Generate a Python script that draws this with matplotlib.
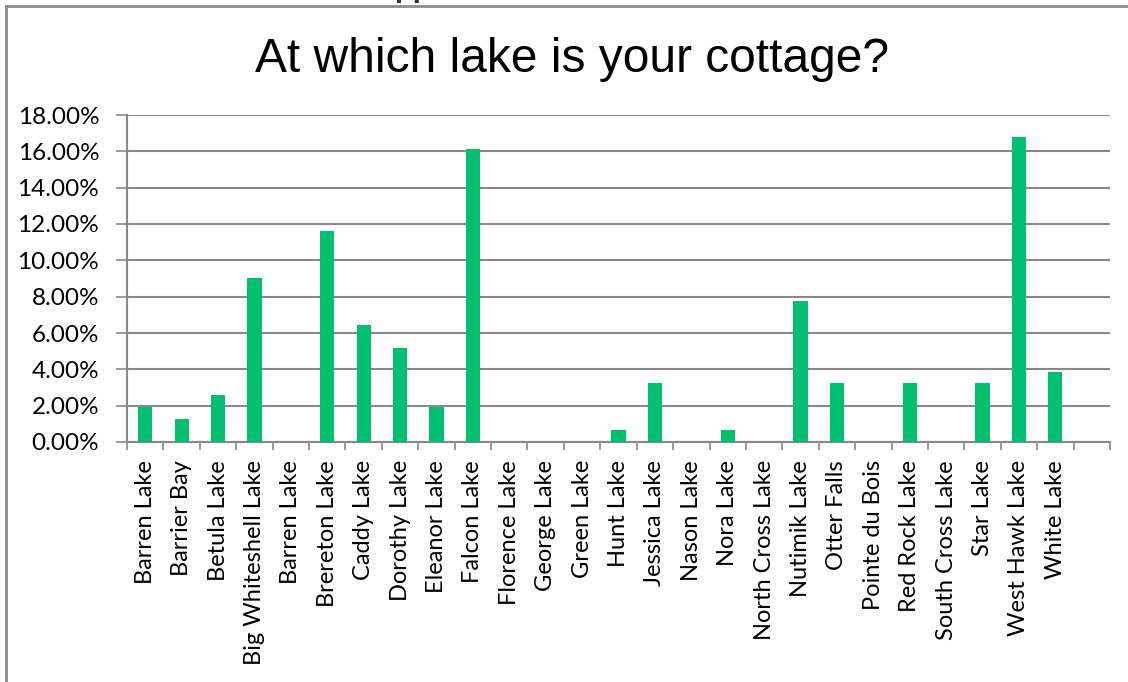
import matplotlib
matplotlib.use("Agg")
import matplotlib.pyplot as plt
import numpy as np
from matplotlib.ticker import FuncFormatter, MultipleLocator
from matplotlib.lines import Line2D

# categories (last slot is an empty category in the original chart)
LAKES = ["Barren Lake", "Barrier Bay", "Betula Lake", "Big Whiteshell Lake",
         "Barren Lake", "Brereton Lake", "Caddy Lake", "Dorothy Lake",
         "Eleanor Lake", "Falcon Lake", "Florence Lake", "George Lake",
         "Green Lake", "Hunt Lake", "Jessica Lake", "Nason Lake", "Nora Lake",
         "North Cross Lake", "Nutimik Lake", "Otter Falls", "Pointe du Bois",
         "Red Rock Lake", "South Cross Lake", "Star Lake", "West Hawk Lake",
         "White Lake", ""]
# share of respondents (%)
SHARE = [1.94, 1.29, 2.58, 9.03, 0.0, 11.61, 6.45, 5.16, 1.94, 16.13,
         0.0, 0.0, 0.0, 0.65, 3.23, 0.0, 0.65, 0.0, 7.74, 3.23, 0.0,
         3.23, 0.0, 3.23, 16.77, 3.87, 0.0]

GREEN = "#00BF6F"
GRID = "#898989"
LABEL_FONT = ["Lato", "DejaVu Sans"]

fig = plt.figure(figsize=(11.28, 6.82), dpi=100)
W, H = 1128, 682
ax = fig.add_axes([127 / W, 1 - 442 / H, (1110 - 127) / W, (442 - 115) / H])

x = np.arange(len(LAKES))
ax.bar(x, SHARE, width=0.39, color=GREEN, zorder=3)

ax.set_xlim(-0.5, len(LAKES) - 0.5)
ax.set_ylim(0, 18)
ax.yaxis.set_major_locator(MultipleLocator(2))
ax.yaxis.set_major_formatter(FuncFormatter(lambda v, p: f"{v:.2f}%"))
ax.grid(axis="y", color=GRID, lw=1.5, zorder=1)

# category labels centred, tick marks on category boundaries
ax.set_xticks(x)
ax.set_xticklabels(LAKES, rotation=90, ha="center", va="top",
                   fontsize=17, family=LABEL_FONT)
ax.tick_params(axis="x", length=0, pad=13)
ax.set_xticks(np.arange(-0.5, len(LAKES)), minor=True)
ax.tick_params(axis="x", which="minor", length=6, width=1.2, color=GRID)
ax.tick_params(axis="y", length=8, width=1.2, color=GRID, pad=12,
               labelsize=17.5)
for t in ax.get_yticklabels():
    t.set_family(LABEL_FONT)

for s in ["top", "right"]:
    ax.spines[s].set_visible(False)
for s in ["left", "bottom"]:
    ax.spines[s].set_color(GRID)
    ax.spines[s].set_linewidth(1.5)

fig.text(572 / W, 1 - 59 / H, "At which lake is your cottage?",
         ha="center", va="center", fontsize=34.5, family="Liberation Sans")

# outer chart border (top and left edges only are visible)
fig.add_artist(Line2D([6 / W, 1], [1 - 6 / H, 1 - 6 / H], color="#8c8c8c",
                      lw=2, transform=fig.transFigure))
fig.add_artist(Line2D([6 / W, 6 / W], [0, 1 - 6 / H], color="#8c8c8c",
                      lw=2, transform=fig.transFigure))

# cut-off slide heading above the chart (only descenders show)
fig.text(374 / W, 1 + 3 / H, "Appendix", ha="left", va="baseline",
         fontsize=21, fontweight="bold", color="#333333",
         family="Liberation Sans")

fig.savefig("out.png", dpi=100)
